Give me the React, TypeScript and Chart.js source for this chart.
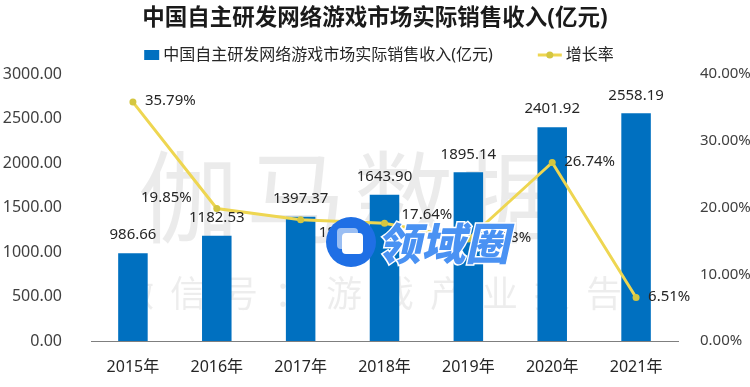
import React, { useEffect, useRef } from 'react';
import { Chart, registerables } from 'chart.js';

Chart.register(...registerables);

const titleText = '中国自主研发网络游戏市场实际销售收入(亿元)';
const revenueLabel = '中国自主研发网络游戏市场实际销售收入(亿元)';
const growthLabel = '增长率';
const years = ['2015年', '2016年', '2017年', '2018年', '2019年', '2020年', '2021年'];
const revenue = [986.66, 1182.53, 1397.37, 1643.9, 1895.14, 2401.92, 2558.19];
const growth = [35.79, 19.85, 18.17, 17.64, 15.28, 26.74, 6.51];
const growthLabelPlacement = ['right', 'left', 'belowRight', 'aboveRight', 'right', 'right', 'right'];
const watermarkBig = ['伽', '马', '数', '据'];
const watermarkSmall = '微信号：游戏产业报告';
const logoText = '领域圈';

const BAR_COLOR = '#0070c0';
const LINE_COLOR = '#eed651';
const POINT_COLOR = '#d4c640';
const FONT = "'Noto Sans', 'Noto Sans CJK SC', sans-serif";
const CJK = "'Noto Sans CJK SC', sans-serif";

const placementOffsets: Record<string, [number, number, CanvasTextAlign]> = {
  right: [12, -1, 'left'],
  left: [-25, -11, 'right'],
  belowRight: [18, 13, 'left'],
  aboveRight: [17, -9, 'left'],
};

const watermarkPlugin = {
  id: 'watermark',
  beforeDatasetsDraw(chart: any) {
    const ctx = chart.ctx;
    ctx.save();
    ctx.textAlign = 'center';
    ctx.textBaseline = 'middle';
    ctx.fillStyle = 'rgba(0,0,0,0.08)';
    ctx.font = `100px ${CJK}`;
    watermarkBig.forEach((ch, i) => ctx.fillText(ch, 188 + i * 108, 197));
    ctx.fillStyle = 'rgba(0,0,0,0.07)';
    ctx.font = `36px ${CJK}`;
    watermarkSmall.split('').forEach((ch, i) => ctx.fillText(ch, 136 + i * 52, 293));
    ctx.restore();
  },
};

const labelsPlugin = {
  id: 'valueLabels',
  afterDatasetsDraw(chart: any) {
    const ctx = chart.ctx;
    ctx.save();
    ctx.fillStyle = '#262626';
    ctx.font = `15px ${FONT}`;
    ctx.textBaseline = 'middle';
    const barMeta = chart.getDatasetMeta(0);
    ctx.textAlign = 'center';
    barMeta.data.forEach((el: any, i: number) => {
      ctx.fillText(revenue[i].toFixed(2), el.x, el.y - 18);
    });
    const lineMeta = chart.getDatasetMeta(1);
    lineMeta.data.forEach((el: any, i: number) => {
      const [dx, dy, align] = placementOffsets[growthLabelPlacement[i]];
      ctx.textAlign = align;
      ctx.fillText(growth[i].toFixed(2) + '%', el.x + dx, el.y + dy);
    });
    ctx.restore();
  },
};

const legendPlugin = {
  id: 'customLegend',
  afterDraw(chart: any) {
    const ctx = chart.ctx;
    ctx.save();
    ctx.font = `16px ${FONT}`;
    ctx.textBaseline = 'middle';
    ctx.textAlign = 'left';
    const w1 = ctx.measureText(revenueLabel).width;
    const w2 = ctx.measureText(growthLabel).width;
    const total = 15 + 4 + w1 + 45 + 24 + 4 + w2;
    let x = chart.width / 2 - total / 2 + 4;
    const y = 55;
    ctx.fillStyle = BAR_COLOR;
    ctx.fillRect(x, y - 5, 15, 10);
    x += 19;
    ctx.fillStyle = '#262626';
    ctx.fillText(revenueLabel, x, y);
    x += w1 + 45;
    ctx.strokeStyle = LINE_COLOR;
    ctx.lineWidth = 3;
    ctx.beginPath();
    ctx.moveTo(x, y);
    ctx.lineTo(x + 24, y);
    ctx.stroke();
    ctx.fillStyle = POINT_COLOR;
    ctx.beginPath();
    ctx.arc(x + 12, y, 3.5, 0, Math.PI * 2);
    ctx.fill();
    x += 28;
    ctx.fillStyle = '#262626';
    ctx.fillText(growthLabel, x, y);
    ctx.restore();
  },
};

const logoPlugin = {
  id: 'logo',
  afterDraw(chart: any) {
    const ctx = chart.ctx;
    ctx.save();
    ctx.fillStyle = '#1f6fe5';
    ctx.beginPath();
    ctx.arc(351, 242, 25, 0, Math.PI * 2);
    ctx.fill();
    ctx.fillStyle = 'rgba(255,255,255,0.55)';
    ctx.beginPath();
    ctx.roundRect(337, 228, 21, 21, 4);
    ctx.fill();
    ctx.fillStyle = '#ffffff';
    ctx.beginPath();
    ctx.roundRect(342, 233, 21, 21, 4);
    ctx.fill();
    ctx.translate(381, 243);
    ctx.transform(1, 0, -0.22, 1, 0, 0);
    ctx.font = `900 44px ${CJK}`;
    ctx.textBaseline = 'middle';
    ctx.textAlign = 'left';
    ctx.lineWidth = 3;
    ctx.strokeStyle = '#ffffff';
    ctx.strokeText(logoText, 0, 0);
    ctx.fillStyle = '#4a92f3';
    ctx.fillText(logoText, 0, 0);
    ctx.restore();
  },
};

export default function App() {
  const ref = useRef<HTMLCanvasElement | null>(null);
  useEffect(() => {
    document.body.style.margin = '0';
    const canvas = ref.current;
    if (!canvas) return;
    const chart = new Chart(canvas, {
      type: 'bar',
      data: {
        labels: years,
        datasets: [
          {
            type: 'bar',
            label: revenueLabel,
            data: revenue,
            backgroundColor: BAR_COLOR,
            yAxisID: 'y',
            barPercentage: 0.44,
            categoryPercentage: 0.8,
            order: 1,
          },
          {
            type: 'line',
            label: growthLabel,
            data: growth,
            borderColor: LINE_COLOR,
            backgroundColor: POINT_COLOR,
            borderWidth: 3,
            pointRadius: 3.5,
            pointBackgroundColor: POINT_COLOR,
            pointBorderColor: POINT_COLOR,
            pointBorderWidth: 0,
            yAxisID: 'y1',
            tension: 0,
            order: 0,
          },
        ],
      },
      options: {
        animation: false,
        responsive: false,
        maintainAspectRatio: false,
        layout: { padding: 0 },
        plugins: {
          legend: { display: false },
          tooltip: { enabled: false },
          title: {
            display: true,
            text: titleText,
            color: '#1a1a1a',
            font: { family: FONT, size: 22.5, weight: 'bold' },
            padding: { top: 5, bottom: 42 },
          },
        },
        scales: {
          x: {
            grid: { display: false },
            border: { display: true, color: '#7f7f7f', width: 1 },
            ticks: { color: '#262626', font: { family: FONT, size: 16 }, padding: 9 },
            afterFit(scale: any) {
              scale.height = 46;
            },
          },
          y: {
            position: 'left',
            min: 0,
            max: 3000,
            grid: { display: false },
            border: { display: false },
            ticks: {
              stepSize: 500,
              color: '#404040',
              font: { family: FONT, size: 16 },
              padding: 21,
              callback: (v: any) => Number(v).toFixed(2),
            },
            afterFit(scale: any) {
              scale.width = 91;
            },
          },
          y1: {
            position: 'right',
            min: 0,
            max: 40,
            grid: { display: false },
            border: { display: false },
            ticks: {
              stepSize: 10,
              color: '#404040',
              font: { family: FONT, size: 15 },
              padding: 14,
              callback: (v: any) => Number(v).toFixed(2) + '%',
            },
            afterFit(scale: any) {
              scale.width = 72;
            },
          },
        },
      },
      plugins: [watermarkPlugin, labelsPlugin, legendPlugin, logoPlugin],
    });
    return () => chart.destroy();
  }, []);
  return (
    <div style={{ width: 750, height: 387 }}>
      <canvas ref={ref} width={750} height={387} style={{ display: 'block', width: 750, height: 387 }} />
    </div>
  );
}
